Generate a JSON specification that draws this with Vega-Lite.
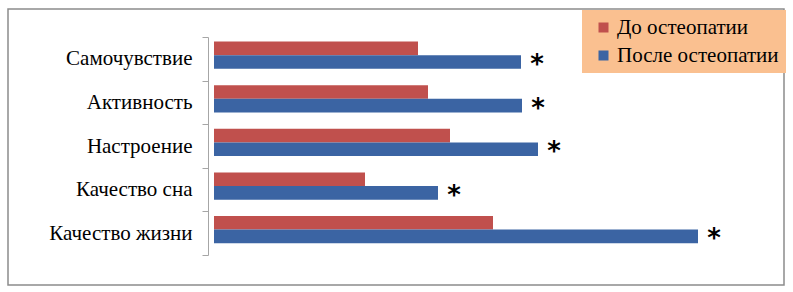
{
  "$schema": "https://vega.github.io/schema/vega-lite/v6.json",
  "width": 776,
  "height": 276,
  "autosize": "none",
  "padding": {"left": 8, "top": 9, "right": 9, "bottom": 7},
  "background": "white",
  "config": {
    "view": {"stroke": "#8C8C8C", "strokeWidth": 1.5},
    "font": "Liberation Serif"
  },
  "data": {
    "values": [
      {"cat": "Самочувствие", "series": "До остеопатии", "value": 204},
      {"cat": "Самочувствие", "series": "После остеопатии", "value": 307},
      {"cat": "Активность", "series": "До остеопатии", "value": 214},
      {"cat": "Активность", "series": "После остеопатии", "value": 308},
      {"cat": "Настроение", "series": "До остеопатии", "value": 236},
      {"cat": "Настроение", "series": "После остеопатии", "value": 324},
      {"cat": "Качество сна", "series": "До остеопатии", "value": 151},
      {"cat": "Качество сна", "series": "После остеопатии", "value": 224},
      {"cat": "Качество жизни", "series": "До остеопатии", "value": 279},
      {"cat": "Качество жизни", "series": "После остеопатии", "value": 484}
    ]
  },
  "encoding": {
    "y": {
      "field": "cat",
      "type": "nominal",
      "sort": ["Самочувствие", "Активность", "Настроение", "Качество сна", "Качество жизни"],
      "scale": {"range": [28, 246], "paddingInner": 0, "paddingOuter": 0},
      "axis": {
        "title": null,
        "offset": -200,
        "tickBand": "extent",
        "tickSize": 6,
        "tickColor": "#A6A6A6",
        "domainColor": "#A6A6A6",
        "labelFont": "Liberation Serif",
        "labelFontSize": 21,
        "labelColor": "#000000",
        "labelPadding": 10
      }
    },
    "x": {
      "field": "value",
      "type": "quantitative",
      "scale": {"domain": [-206, 570], "nice": false, "zero": true},
      "axis": null
    },
    "yOffset": {
      "field": "series",
      "type": "nominal",
      "sort": ["До остеопатии", "После остеопатии"],
      "scale": {"paddingInner": 0, "paddingOuter": 0.6, "align": 0.28}
    }
  },
  "layer": [
    {
      "mark": {"type": "bar", "stroke": null},
      "encoding": {
        "color": {
          "field": "series",
          "type": "nominal",
          "sort": ["До остеопатии", "После остеопатии"],
          "scale": {"domain": ["До остеопатии", "После остеопатии"], "range": ["#C0504D", "#3B64A3"]},
          "legend": {
            "title": null,
            "orient": "none",
            "legendX": 574,
            "legendY": 1,
            "fillColor": "#FAC090",
            "padding": 7,
            "symbolType": "square",
            "symbolSize": 100,
            "symbolOffset": 4,
            "symbolStrokeWidth": 0,
            "labelFont": "Liberation Serif",
            "labelFontSize": 21,
            "labelLimit": 300,
            "labelColor": "#000000",
            "labelOffset": 3,
            "rowPadding": 6
          }
        }
      }
    },
    {
      "transform": [{"filter": "datum.series === 'После остеопатии'"}],
      "mark": {"type": "text", "text": "*", "font": "DejaVu Sans", "fontWeight": "bold", "fontSize": 26, "align": "center", "baseline": "middle", "dx": 16, "dy": 3, "color": "#000000"}
    }
  ]
}
